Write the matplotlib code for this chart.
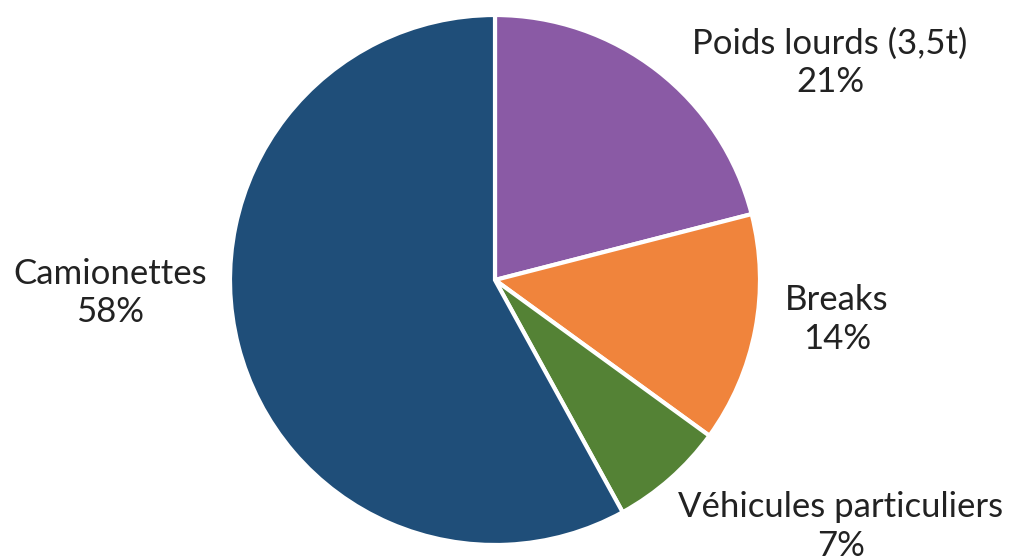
import matplotlib
matplotlib.use("Agg")
import matplotlib.pyplot as plt

# data
categories = ["Poids lourds (3,5t)", "Breaks", "Véhicules particuliers", "Camionettes"]
values = [21, 14, 7, 58]
colors = ["#8A5AA5", "#F0843C", "#548235", "#1F4E79"]

# label positions (data coords, pie radius = 1)
label_pos = [(1.264, 0.82), (1.29, -0.15), (1.305, -0.93), (-1.453, -0.05)]

plt.rcParams["font.family"] = ["Lato", "DejaVu Sans"]

fig = plt.figure(figsize=(10.11, 5.58), dpi=100)
ax = fig.add_axes([(495 - 265) / 1011, (558 - 545) / 558, 530 / 1011, 530 / 558])

ax.pie(values, colors=colors, startangle=90, counterclock=False,
       wedgeprops=dict(edgecolor="white", linewidth=3))
ax.set_xlim(-1, 1)
ax.set_ylim(-1, 1)
ax.set_aspect("equal")
ax.axis("off")

for cat, v, (x, y) in zip(categories, values, label_pos):
    ax.text(x, y, f"{cat}\n{v}%", ha="center", va="center", fontsize=25,
            color="#222222", linespacing=1.25, clip_on=False)

fig.savefig("out.png", dpi=100, facecolor="white")
